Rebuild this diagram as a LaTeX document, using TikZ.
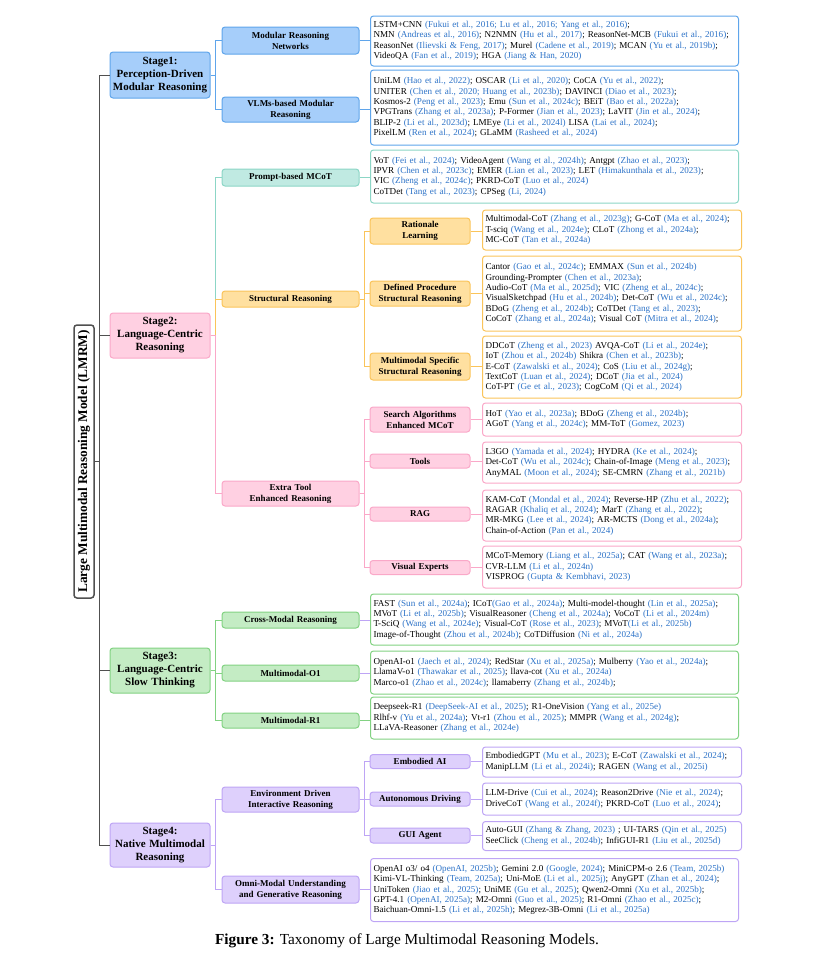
\documentclass[tikz,border=0pt]{standalone}
\usepackage{fontspec}
\setmainfont{Liberation Serif}
\definecolor{blueF}{RGB}{166,206,250}
\definecolor{blueD}{RGB}{95,165,235}
\definecolor{pinkF}{RGB}{255,208,226}
\definecolor{pinkD}{RGB}{250,168,200}
\definecolor{tealF}{RGB}{192,234,226}
\definecolor{tealD}{RGB}{140,214,198}
\definecolor{orF}{RGB}{255,224,160}
\definecolor{orD}{RGB}{250,196,90}
\definecolor{grF}{RGB}{196,236,196}
\definecolor{grD}{RGB}{130,210,130}
\definecolor{puF}{RGB}{222,208,252}
\definecolor{puD}{RGB}{190,165,245}
\definecolor{citeblue}{RGB}{45,115,200}
\definecolor{trunkc}{RGB}{80,80,80}
\newcommand\cb[1]{\textcolor{citeblue}{#1}}
\newcommand\leaffont{\fontsize{9.1}{10.4}\selectfont}
\tikzset{
  rootbox/.style={draw=trunkc, line width=1.5pt, rounded corners=3pt, fill=white, minimum width=20, minimum height=273, inner sep=0pt, font=\fontsize{13.3}{15}\selectfont\bfseries},
  stagebox/.style={draw, line width=1pt, rounded corners=3pt, align=center, minimum width=100, text width=98, inner sep=1pt, font=\fontsize{11}{13}\selectfont\bfseries},
  subbox/.style={draw, line width=1pt, rounded corners=3pt, align=center, minimum width=137, text width=135, inner sep=1pt, font=\fontsize{9}{11}\selectfont\bfseries},
  lthree/.style={draw, line width=1pt, rounded corners=3pt, align=center, minimum width=100, text width=98, inner sep=1pt, font=\fontsize{9}{11}\selectfont\bfseries},
  leaf/.style={draw, rounded corners=3pt, line width=1pt, fill=white, anchor=west, align=left, inner xsep=3pt, inner ysep=0pt, font=\leaffont},
  leafA/.style={leaf, text width=362},
  leafB/.style={leaf, text width=253},
  sB/.style={fill=blueF, draw=blueD},
  sP/.style={fill=pinkF, draw=pinkD},
  sT/.style={fill=tealF, draw=tealD},
  sO/.style={fill=orF, draw=orD},
  sG/.style={fill=grF, draw=grD},
  sU/.style={fill=puF, draw=puD},
  edge/.style={line width=0.8pt},
  trunk/.style={draw=trunkc, line width=1pt},
}
\begin{document}
\begin{tikzpicture}[x=1pt,y=-1pt]
\useasboundingbox (0,0) rectangle (813,975);
% root and stages
\node[rootbox] (root) at (84,461.5) {\rotatebox{90}{Large Multimodal Reasoning Model (LMRM)}};
\node[stagebox, sB, minimum height=46] (s1) at (160,75) {Stage1:\\Perception-Driven\\Modular Reasoning};
\node[stagebox, sP, minimum height=45] (s2) at (160,335.5) {Stage2:\\Language-Centric\\Reasoning};
\node[stagebox, sG, minimum height=45] (s3) at (160,670.5) {Stage3:\\Language-Centric\\Slow Thinking};
\node[stagebox, sU, minimum height=44] (s4) at (160,845) {Stage4:\\Native Multimodal\\Reasoning};
% substages
\node[subbox, sB, minimum height=27] (msn) at (290.5,40.5) {Modular Reasoning\\Networks};
\node[subbox, sB, minimum height=25] (vlm) at (290.5,109.5) {VLMs-based Modular\\Reasoning};
\node[subbox, sT, minimum height=17] (prm) at (290.5,177.5) {Prompt-based MCoT};
\node[subbox, sO, minimum height=16] (str) at (290.5,299) {Structural Reasoning};
\node[subbox, sP, minimum height=25] (ext) at (290.5,493.5) {Extra Tool\\Enhanced Reasoning};
\node[subbox, sG, minimum height=16] (cmr) at (290.5,620) {Cross-Modal Reasoning};
\node[subbox, sG, minimum height=16] (mo1) at (290.5,673) {Multimodal-O1};
\node[subbox, sG, minimum height=15] (mr1) at (290.5,720.5) {Multimodal-R1};
\node[subbox, sU, minimum height=25] (env) at (290.5,799.5) {Environment Driven\\Interactive Reasoning};
\node[subbox, sU, minimum height=27] (omn) at (290.5,889.5) {Omni-Modal Understanding\\and Generative Reasoning};
% level three
\node[lthree, sO, minimum height=26] (rat) at (420,231) {Rationale\\Learning};
\node[lthree, sO, minimum height=25] (def) at (420,293.5) {Defined Procedure\\Structural Reasoning};
\node[lthree, sO, minimum height=27] (mms) at (420,366.5) {Multimodal Specific\\Structural Reasoning};
\node[lthree, sP, minimum height=25] (sea) at (420,419.5) {Search Algorithms\\Enhanced MCoT};
\node[lthree, sP, minimum height=14] (too) at (420,461) {Tools};
\node[lthree, sP, minimum height=14] (rag) at (420,514) {RAG};
\node[lthree, sP, minimum height=14] (vis) at (420,567.5) {Visual Experts};
\node[lthree, sU, minimum height=14] (emb) at (420,761.5) {Embodied AI};
\node[lthree, sU, minimum height=14] (aut) at (420,799) {Autonomous Driving};
\node[lthree, sU, minimum height=15] (gui) at (420,835.5) {GUI Agent};
% leaves
\node[leafA, draw=blueD, minimum height=50] (L1) at (370,41) {%
\mbox{LSTM+CNN \cb{(Fukui et al., 2016; Lu et al., 2016; Yang et al., 2016)};}\\
\mbox{NMN \cb{(Andreas et al., 2016)}; N2NMN \cb{(Hu et al., 2017)}; ReasonNet-MCB \cb{(Fukui et al., 2016)};}\\
\mbox{ReasonNet \cb{(Ilievski \& Feng, 2017)}; Murel \cb{(Cadene et al., 2019)}; MCAN \cb{(Yu et al., 2019b)};}\\
\mbox{VideoQA \cb{(Fan et al., 2019)}; HGA \cb{(Jiang \& Han, 2020)}}};
\node[leafA, draw=blueD, minimum height=75] (L2) at (370,107.5) {%
\mbox{UniLM \cb{(Hao et al., 2022)}; OSCAR \cb{(Li et al., 2020)}; CoCA \cb{(Yu et al., 2022)};}\\
\mbox{UNITER \cb{(Chen et al., 2020; Huang et al., 2023b)}; DAVINCI \cb{(Diao et al., 2023)};}\\
\mbox{Kosmos-2 \cb{(Peng et al., 2023)}; Emu \cb{(Sun et al., 2024c)}; BEiT \cb{(Bao et al., 2022a)};}\\
\mbox{VPGTrans \cb{(Zhang et al., 2023a)}; P-Former \cb{(Jian et al., 2023)}; LaVIT \cb{(Jin et al., 2024)};}\\
\mbox{BLIP-2 \cb{(Li et al., 2023d)}; LMEye \cb{(Li et al., 2024l)} LISA \cb{(Lai et al., 2024)};}\\
\mbox{PixelLM \cb{(Ren et al., 2024)}; GLaMM \cb{(Rasheed et al., 2024)}}};
\node[leafA, draw=tealD, minimum height=53] (L3) at (370,176.5) {%
\mbox{VoT \cb{(Fei et al., 2024)}; VideoAgent \cb{(Wang et al., 2024h)}; Antgpt \cb{(Zhao et al., 2023)};}\\
\mbox{IPVR \cb{(Chen et al., 2023c)}; EMER \cb{(Lian et al., 2023)}; LET \cb{(Himakunthala et al., 2023)};}\\
\mbox{VIC \cb{(Zheng et al., 2024c)}; PKRD-CoT \cb{(Luo et al., 2024)}}\\
\mbox{CoTDet \cb{(Tang et al., 2023)}; CPSeg \cb{(Li, 2024)}}};
\node[leafB, draw=orD, minimum height=40] (L4) at (482,230) {%
\mbox{Multimodal-CoT \cb{(Zhang et al., 2023g)}; G-CoT \cb{(Ma et al., 2024)};}\\
\mbox{T-sciq \cb{(Wang et al., 2024e)}; CLoT \cb{(Zhong et al., 2024a)};}\\
\mbox{MC-CoT \cb{(Tan et al., 2024a)}}};
\node[leafB, draw=orD, minimum height=75] (L5) at (482,293.5) {%
\mbox{Cantor \cb{(Gao et al., 2024c)}; EMMAX \cb{(Sun et al., 2024b)}}\\
\mbox{Grounding-Prompter \cb{(Chen et al., 2023a)};}\\
\mbox{Audio-CoT \cb{(Ma et al., 2025d)}; VIC \cb{(Zheng et al., 2024c)};}\\
\mbox{VisualSketchpad \cb{(Hu et al., 2024b)}; Det-CoT \cb{(Wu et al., 2024c)};}\\
\mbox{BDoG \cb{(Zheng et al., 2024b)}; CoTDet \cb{(Tang et al., 2023)};}\\
\mbox{CoCoT \cb{(Zhang et al., 2024a)}; Visual CoT \cb{(Mitra et al., 2024)};}};
\node[leafB, draw=orD, minimum height=62] (L6) at (482,367) {%
\mbox{DDCoT \cb{(Zheng et al., 2023)} AVQA-CoT \cb{(Li et al., 2024e)};}\\
\mbox{IoT \cb{(Zhou et al., 2024b)} Shikra \cb{(Chen et al., 2023b)};}\\
\mbox{E-CoT \cb{(Zawalski et al., 2024)}; CoS \cb{(Liu et al., 2024g)};}\\
\mbox{TextCoT \cb{(Luan et al., 2024)}; DCoT \cb{(Jia et al., 2024)}}\\
\mbox{CoT-PT \cb{(Ge et al., 2023)}; CogCoM \cb{(Qi et al., 2024)}}};
\node[leafB, draw=pinkD, minimum height=33] (L7) at (482,419.5) {%
\mbox{HoT \cb{(Yao et al., 2023a)}; BDoG \cb{(Zheng et al., 2024b)};}\\
\mbox{AGoT \cb{(Yang et al., 2024c)}; MM-ToT \cb{(Gomez, 2023)}}};
\node[leafB, draw=pinkD, minimum height=41] (L8) at (482,462.5) {%
\mbox{L3GO \cb{(Yamada et al., 2024)}; HYDRA \cb{(Ke et al., 2024)};}\\
\mbox{Det-CoT \cb{(Wu et al., 2024c)}; Chain-of-Image \cb{(Meng et al., 2023)};}\\
\mbox{AnyMAL \cb{(Moon et al., 2024)}; SE-CMRN \cb{(Zhang et al., 2021b)}}};
\node[leafB, draw=pinkD, minimum height=51] (L9) at (482,515.5) {%
\mbox{KAM-CoT \cb{(Mondal et al., 2024)}; Reverse-HP \cb{(Zhu et al., 2022)};}\\
\mbox{RAGAR \cb{(Khaliq et al., 2024)}; MarT \cb{(Zhang et al., 2022)};}\\
\mbox{MR-MKG \cb{(Lee et al., 2024)}; AR-MCTS \cb{(Dong et al., 2024a)};}\\
\mbox{Chain-of-Action \cb{(Pan et al., 2024)}}};
\node[leafB, draw=pinkD, minimum height=42] (L10) at (482,567) {%
\mbox{MCoT-Memory \cb{(Liang et al., 2025a)}; CAT \cb{(Wang et al., 2023a)};}\\
\mbox{CVR-LLM \cb{(Li et al., 2024n)}}\\
\mbox{VISPROG \cb{(Gupta \& Kembhavi, 2023)}}};
\node[leafA, draw=grD, minimum height=51] (L11) at (370,619.5) {%
\mbox{FAST \cb{(Sun et al., 2024a)}; ICoT\cb{(Gao et al., 2024a)}; Multi-model-thought \cb{(Lin et al., 2025a)};}\\
\mbox{MVoT \cb{(Li et al., 2025b)}; VisualReasoner \cb{(Cheng et al., 2024a)}; VoCoT \cb{(Li et al., 2024m)}}\\
\mbox{T-SciQ \cb{(Wang et al., 2024e)}; Visual-CoT \cb{(Rose et al., 2023)}; MVoT\cb{(Li et al., 2025b)}}\\
\mbox{Image-of-Thought \cb{(Zhou et al., 2024b)}; CoTDiffusion \cb{(Ni et al., 2024a)}}};
\node[leafA, draw=grD, minimum height=43] (L12) at (370,672.5) {%
\mbox{OpenAI-o1 \cb{(Jaech et al., 2024)}; RedStar \cb{(Xu et al., 2025a)}; Mulberry \cb{(Yao et al., 2024a)};}\\
\mbox{LlamaV-o1 \cb{(Thawakar et al., 2025)}; llava-cot \cb{(Xu et al., 2024a)}}\\
\mbox{Marco-o1 \cb{(Zhao et al., 2024c)}; llamaberry \cb{(Zhang et al., 2024b)};}};
\node[leafA, draw=grD, minimum height=42] (L13) at (370,718) {%
\mbox{Deepseek-R1 \cb{(DeepSeek-AI et al., 2025)}; R1-OneVision \cb{(Yang et al., 2025e)}}\\
\mbox{Rlhf-v \cb{(Yu et al., 2024a)}; Vt-r1 \cb{(Zhou et al., 2025)}; MMPR \cb{(Wang et al., 2024g)};}\\
\mbox{LLaVA-Reasoner \cb{(Zhang et al., 2024e)}}};
\node[leafB, draw=puD, minimum height=30] (L14) at (482,762) {%
\mbox{EmbodiedGPT \cb{(Mu et al., 2023)}; E-CoT \cb{(Zawalski et al., 2024)};}\\
\mbox{ManipLLM \cb{(Li et al., 2024i)}; RAGEN \cb{(Wang et al., 2025i)}}};
\node[leafB, draw=puD, minimum height=32] (L15) at (482,799) {%
\mbox{LLM-Drive \cb{(Cui et al., 2024)}; Reason2Drive \cb{(Nie et al., 2024)};}\\
\mbox{DriveCoT \cb{(Wang et al., 2024f)}; PKRD-CoT \cb{(Luo et al., 2024)};}};
\node[leafB, draw=puD, minimum height=29] (L16) at (482,836) {%
\mbox{Auto-GUI \cb{(Zhang \& Zhang, 2023)} ; UI-TARS \cb{(Qin et al., 2025)}}\\
\mbox{SeeClick \cb{(Cheng et al., 2024b)}; InfiGUI-R1 \cb{(Liu et al., 2025d)}}};
\node[leafA, draw=puD, minimum height=63] (L17) at (370,890) {%
\mbox{OpenAI o3/ o4 \cb{(OpenAI, 2025b)}; Gemini 2.0 \cb{(Google, 2024)}; MiniCPM-o 2.6 \cb{(Team, 2025b)}}\\
\mbox{Kimi-VL-Thinking \cb{(Team, 2025a)}; Uni-MoE \cb{(Li et al., 2025j)}; AnyGPT \cb{(Zhan et al., 2024)};}\\
\mbox{UniToken \cb{(Jiao et al., 2025)}; UniME \cb{(Gu et al., 2025)}; Qwen2-Omni \cb{(Xu et al., 2025b)};}\\
\mbox{GPT-4.1 \cb{(OpenAI, 2025a)}; M2-Omni \cb{(Guo et al., 2025)}; R1-Omni \cb{(Zhao et al., 2025c)};}\\
\mbox{Baichuan-Omni-1.5 \cb{(Li et al., 2025h)}; Megrez-3B-Omni \cb{(Li et al., 2025a)}}};
% caption
\node[font=\fontsize{15.3}{17}\selectfont] (cap) at (407,941) {\textbf{Figure 3:} Taxonomy of Large Multimodal Reasoning Models.};
% trunk connectors
\foreach \s in {s1,s2,s3,s4} \draw[trunk] (root.east) -- ++(5,0) |- (\s.west);
% stage to substage
\draw[edge, blueD] (s1.east) -- ++(5,0) |- (msn.west);
\draw[edge, blueD] (s1.east) -- ++(5,0) |- (vlm.west);
\draw[edge, tealD] (s2.east) -- ++(5,0) |- (prm.west);
\draw[edge, orD] (s2.east) -- ++(5,0) |- (str.west);
\draw[edge, pinkD] (s2.east) -- ++(5,0) |- (ext.west);
\draw[edge, grD] (s3.east) -- ++(5,0) |- (cmr.west);
\draw[edge, grD] (s3.east) -- ++(5,0) |- (mo1.west);
\draw[edge, grD] (s3.east) -- ++(5,0) |- (mr1.west);
\draw[edge, puD] (s4.east) -- ++(5,0) |- (env.west);
\draw[edge, puD] (s4.east) -- ++(5,0) |- (omn.west);
% substage to level three
\foreach \n in {rat,def,mms} \draw[edge, orD] (str.east) -- ++(5,0) |- (\n.west);
\foreach \n in {sea,too,rag,vis} \draw[edge, pinkD] (ext.east) -- ++(5,0) |- (\n.west);
\foreach \n in {emb,aut,gui} \draw[edge, puD] (env.east) -- ++(5,0) |- (\n.west);
% to leaves
\draw[edge, blueD] (msn.east) -- (msn.east -| L1.west);
\draw[edge, blueD] (vlm.east) -- (vlm.east -| L2.west);
\draw[edge, tealD] (prm.east) -- (prm.east -| L3.west);
\draw[edge, orD] (rat.east) -- (rat.east -| L4.west);
\draw[edge, orD] (def.east) -- (def.east -| L5.west);
\draw[edge, orD] (mms.east) -- (mms.east -| L6.west);
\draw[edge, pinkD] (sea.east) -- (sea.east -| L7.west);
\draw[edge, pinkD] (too.east) -- (too.east -| L8.west);
\draw[edge, pinkD] (rag.east) -- (rag.east -| L9.west);
\draw[edge, pinkD] (vis.east) -- (vis.east -| L10.west);
\draw[edge, puD] (cmr.east) -- (cmr.east -| L11.west);
\draw[edge, puD] (mo1.east) -- (mo1.east -| L12.west);
\draw[edge, grD] (mr1.east) -- (mr1.east -| L13.west);
\draw[edge, puD] (emb.east) -- (emb.east -| L14.west);
\draw[edge, puD] (aut.east) -- (aut.east -| L15.west);
\draw[edge, puD] (gui.east) -- (gui.east -| L16.west);
\draw[edge, puD] (omn.east) -- (omn.east -| L17.west);
\end{tikzpicture}
\end{document}
